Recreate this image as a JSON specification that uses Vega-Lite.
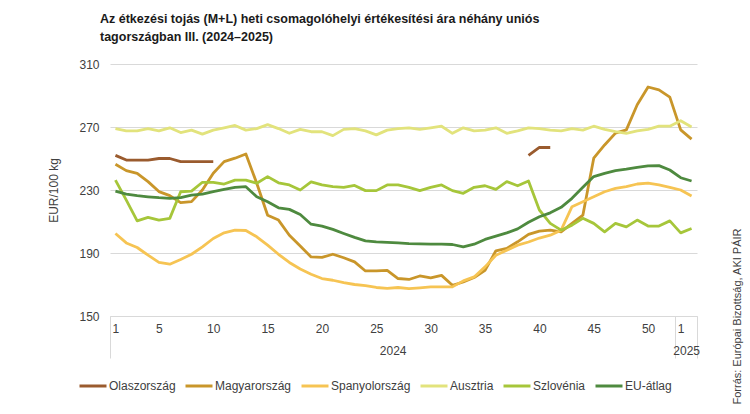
{
  "$schema": "https://vega.github.io/schema/vega-lite/v6.json",
  "width": 587,
  "height": 252,
  "autosize": {"type": "none"},
  "padding": {"left": 110, "top": 64, "right": 53, "bottom": 98},
  "background": "white",
  "title": {
    "text": ["Az étkezési tojás (M+L) heti csomagolóhelyi értékesítési ára néhány uniós", "tagországban III. (2024–2025)"],
    "anchor": "start",
    "frame": "group",
    "dx": -10,
    "offset": 15,
    "font": "Liberation Sans",
    "fontSize": 12.5,
    "fontWeight": "bold",
    "lineHeight": 18,
    "color": "#1a1a1a"
  },
  "config": {
    "view": {"stroke": null},
    "font": "Liberation Sans"
  },
  "datasets": {
    "arak": [
      {"n":1,"Olaszország":252,"Magyarország":246.3,"Spanyolország":202.4,"Ausztria":269,"Szlovénia":236.3,"EU-átlag":229.3},
      {"n":2,"Olaszország":249,"Magyarország":242.3,"Spanyolország":196.4,"Ausztria":267.5,"Szlovénia":223.6,"EU-átlag":227.4},
      {"n":3,"Olaszország":249,"Magyarország":240.6,"Spanyolország":193.5,"Ausztria":267.5,"Szlovénia":210.4,"EU-átlag":226.4},
      {"n":4,"Olaszország":249,"Magyarország":235.3,"Spanyolország":188.6,"Ausztria":269,"Szlovénia":212.6,"EU-átlag":225.7},
      {"n":5,"Olaszország":250,"Magyarország":229,"Spanyolország":184,"Ausztria":267.5,"Szlovénia":210.9,"EU-átlag":225.1},
      {"n":6,"Olaszország":250,"Magyarország":226.4,"Spanyolország":182.9,"Ausztria":269.5,"Szlovénia":212,"EU-átlag":224.7},
      {"n":7,"Olaszország":248,"Magyarország":222,"Spanyolország":185.9,"Ausztria":266.5,"Szlovénia":228.9,"EU-átlag":225.1},
      {"n":8,"Olaszország":248,"Magyarország":222.6,"Spanyolország":189.2,"Ausztria":268,"Szlovénia":229.3,"EU-átlag":226.8},
      {"n":9,"Olaszország":248,"Magyarország":230,"Spanyolország":193.9,"Ausztria":265.5,"Szlovénia":234.9,"EU-átlag":227.4},
      {"n":10,"Olaszország":248,"Magyarország":240.6,"Spanyolország":199.2,"Ausztria":268,"Szlovénia":234.9,"EU-átlag":228.9},
      {"n":11,"Olaszország":null,"Magyarország":248,"Spanyolország":202.8,"Ausztria":269.5,"Szlovénia":233.8,"EU-átlag":230.4},
      {"n":12,"Olaszország":null,"Magyarország":250.2,"Spanyolország":204.5,"Ausztria":271,"Szlovénia":236.3,"EU-átlag":231.7},
      {"n":13,"Olaszország":null,"Magyarország":252.9,"Spanyolország":204.3,"Ausztria":268,"Szlovénia":236.3,"EU-átlag":232.1},
      {"n":14,"Olaszország":null,"Magyarország":234.3,"Spanyolország":200.3,"Ausztria":269,"Szlovénia":234.3,"EU-átlag":225.7},
      {"n":15,"Olaszország":null,"Magyarország":214,"Spanyolország":195,"Ausztria":271.5,"Szlovénia":238.5,"EU-átlag":222.5},
      {"n":16,"Olaszország":null,"Magyarország":210.9,"Spanyolország":189.2,"Ausztria":269,"Szlovénia":234.6,"EU-átlag":218.7},
      {"n":17,"Olaszország":null,"Magyarország":201.3,"Spanyolország":184,"Ausztria":266,"Szlovénia":233.2,"EU-átlag":217.7},
      {"n":18,"Olaszország":null,"Magyarország":194.5,"Spanyolország":179.8,"Ausztria":268.5,"Szlovénia":230,"EU-átlag":214.4},
      {"n":19,"Olaszország":null,"Magyarország":187.5,"Spanyolország":176.5,"Ausztria":267,"Szlovénia":235.2,"EU-átlag":208.3},
      {"n":20,"Olaszország":null,"Magyarország":187.2,"Spanyolország":173.8,"Ausztria":267,"Szlovénia":233.2,"EU-átlag":207.1},
      {"n":21,"Olaszország":null,"Magyarország":189.2,"Spanyolország":172.7,"Ausztria":264.5,"Szlovénia":232.1,"EU-átlag":205},
      {"n":22,"Olaszország":null,"Magyarország":187,"Spanyolország":171.2,"Ausztria":268.5,"Szlovénia":231.7,"EU-átlag":202.4},
      {"n":23,"Olaszország":null,"Magyarország":184.4,"Spanyolország":170,"Ausztria":269,"Szlovénia":232.9,"EU-átlag":199.9},
      {"n":24,"Olaszország":null,"Magyarország":178.6,"Spanyolország":169.3,"Ausztria":267.5,"Szlovénia":229.6,"EU-átlag":197.7},
      {"n":25,"Olaszország":null,"Magyarország":178.6,"Spanyolország":168.1,"Ausztria":265,"Szlovénia":229.6,"EU-átlag":197.1},
      {"n":26,"Olaszország":null,"Magyarország":179,"Spanyolország":167.6,"Ausztria":268,"Szlovénia":233.2,"EU-átlag":196.7},
      {"n":27,"Olaszország":null,"Magyarország":173.8,"Spanyolország":168.1,"Ausztria":269,"Szlovénia":233.2,"EU-átlag":196.4},
      {"n":28,"Olaszország":null,"Magyarország":173.2,"Spanyolország":167.4,"Ausztria":269.5,"Szlovénia":231.7,"EU-átlag":196},
      {"n":29,"Olaszország":null,"Magyarország":175.4,"Spanyolország":167.9,"Ausztria":268.5,"Szlovénia":229.6,"EU-átlag":195.8},
      {"n":30,"Olaszország":null,"Magyarország":174.2,"Spanyolország":168.5,"Ausztria":269.5,"Szlovénia":231.7,"EU-átlag":195.6},
      {"n":31,"Olaszország":null,"Magyarország":175.8,"Spanyolország":168.5,"Ausztria":270.5,"Szlovénia":233.2,"EU-átlag":195.6},
      {"n":32,"Olaszország":null,"Magyarország":169.5,"Spanyolország":168.5,"Ausztria":266,"Szlovénia":229.6,"EU-átlag":195.4},
      {"n":33,"Olaszország":null,"Magyarország":171.6,"Spanyolország":172.3,"Ausztria":269.5,"Szlovénia":227.9,"EU-átlag":193.9},
      {"n":34,"Olaszország":null,"Magyarország":174.4,"Spanyolország":174.8,"Ausztria":267.5,"Szlovénia":231.7,"EU-átlag":195.6},
      {"n":35,"Olaszország":null,"Magyarország":179,"Spanyolország":181.2,"Ausztria":268,"Szlovénia":232.7,"EU-átlag":198.6},
      {"n":36,"Olaszország":null,"Magyarország":191.4,"Spanyolország":188.6,"Ausztria":269.5,"Szlovénia":230.4,"EU-átlag":200.7},
      {"n":37,"Olaszország":null,"Magyarország":192.9,"Spanyolország":191.8,"Ausztria":266,"Szlovénia":235.3,"EU-átlag":202.8},
      {"n":38,"Olaszország":null,"Magyarország":197.1,"Spanyolország":195,"Ausztria":267.5,"Szlovénia":232.7,"EU-átlag":205.3},
      {"n":39,"Olaszország":252,"Magyarország":201.8,"Spanyolország":197,"Ausztria":269.5,"Szlovénia":235.7,"EU-átlag":209.5},
      {"n":40,"Olaszország":257,"Magyarország":203.9,"Spanyolország":199.5,"Ausztria":269,"Szlovénia":217.3,"EU-átlag":213},
      {"n":41,"Olaszország":257,"Magyarország":204.5,"Spanyolország":201.3,"Ausztria":268,"Szlovénia":208.8,"EU-átlag":215.5},
      {"n":42,"Olaszország":null,"Magyarország":203.4,"Spanyolország":204.5,"Ausztria":267.5,"Szlovénia":204.5,"EU-átlag":219},
      {"n":43,"Olaszország":null,"Magyarország":208.8,"Spanyolország":219.4,"Ausztria":269,"Szlovénia":207.7,"EU-átlag":224.7},
      {"n":44,"Olaszország":null,"Magyarország":214,"Spanyolország":222.5,"Ausztria":268,"Szlovénia":212,"EU-átlag":231.7},
      {"n":45,"Olaszország":null,"Magyarország":250.2,"Spanyolország":225.7,"Ausztria":270.5,"Szlovénia":208.8,"EU-átlag":238.5},
      {"n":46,"Olaszország":null,"Magyarország":258.6,"Spanyolország":228.9,"Ausztria":268.5,"Szlovénia":203.4,"EU-átlag":240.6},
      {"n":47,"Olaszország":null,"Magyarország":266.1,"Spanyolország":231,"Ausztria":267,"Szlovénia":208.8,"EU-átlag":242.3},
      {"n":48,"Olaszország":null,"Magyarország":268.2,"Spanyolország":232.1,"Ausztria":266,"Szlovénia":206.6,"EU-átlag":243.2},
      {"n":49,"Olaszország":null,"Magyarország":284.1,"Spanyolország":233.8,"Ausztria":267.5,"Szlovénia":210.9,"EU-átlag":244.4},
      {"n":50,"Olaszország":null,"Magyarország":295.4,"Spanyolország":234.3,"Ausztria":268.5,"Szlovénia":207.1,"EU-átlag":245.3},
      {"n":51,"Olaszország":null,"Magyarország":293.6,"Spanyolország":233.2,"Ausztria":270.5,"Szlovénia":207.1,"EU-átlag":245.5},
      {"n":52,"Olaszország":null,"Magyarország":289,"Spanyolország":231.7,"Ausztria":270.5,"Szlovénia":210.4,"EU-átlag":242.7},
      {"n":53,"Olaszország":null,"Magyarország":268.2,"Spanyolország":230,"Ausztria":274,"Szlovénia":202.8,"EU-átlag":237.8},
      {"n":54,"Olaszország":null,"Magyarország":262.3,"Spanyolország":226.2,"Ausztria":270,"Szlovénia":205.6,"EU-átlag":235.7}
    ],
    "evek": [
      {"pos": 26.5, "ev": "2024"},
      {"pos": 53.5, "ev": "2025"}
    ]
  },
  "resolve": {"axis": {"x": "independent", "y": "independent"}},
  "layer": [
    {
      "data": {"name": "arak"},
      "transform": [
        {"fold": ["Olaszország", "Magyarország", "Spanyolország", "Ausztria", "Szlovénia", "EU-átlag"], "as": ["orszag", "ar"]}
      ],
      "mark": {"type": "line", "strokeWidth": 2.8, "strokeJoin": "round", "invalid": "break-paths-show-domains"},
      "encoding": {
        "x": {
          "field": "n", "type": "quantitative",
          "scale": {"domain": [0.5, 54.5], "nice": false, "zero": false},
          "axis": {
            "orient": "bottom",
            "title": null,
            "values": [0.5, 1, 5, 10, 15, 20, 25, 30, 35, 40, 45, 50, 52.5, 53, 54.5],
            "labelExpr": "datum.value % 1 != 0 ? '' : (datum.value > 52 ? datum.value - 52 : datum.value)",
            "labelFont": "Liberation Sans",
            "labelFontSize": 12,
            "labelColor": "#404040",
            "labelPadding": 7,
            "labelOverlap": false,
            "labelFlush": false,
            "labelBaseline": "top",
            "grid": false,
            "domain": true,
            "domainColor": "#D9D9D9",
            "domainWidth": 1,
            "ticks": true,
            "tickColor": "#D9D9D9",
            "tickWidth": 1,
            "tickSize": {"condition": {"test": "datum.value % 1 != 0", "value": 42}, "value": 0}
          }
        },
        "y": {
          "field": "ar", "type": "quantitative",
          "scale": {"domain": [150, 310], "nice": false, "zero": false},
          "axis": {
            "title": "EUR/100 kg",
            "titleFont": "Liberation Sans",
            "titleFontSize": 12,
            "titleFontWeight": "normal",
            "titleColor": "#404040",
            "titlePadding": 18,
            "values": [150, 190, 230, 270, 310],
            "labelFont": "Liberation Sans",
            "labelFontSize": 12,
            "labelColor": "#404040",
            "labelPadding": 11,
            "ticks": false,
            "domain": false,
            "grid": true,
            "gridColor": "#D9D9D9",
            "gridWidth": 1
          }
        },
        "color": {
          "field": "orszag", "type": "nominal",
          "scale": {
            "domain": ["Olaszország", "Magyarország", "Spanyolország", "Ausztria", "Szlovénia", "EU-átlag"],
            "range": ["#9A5B2E", "#C9962A", "#F6C453", "#E2E37C", "#A6C63A", "#4E8A3F"]
          },
          "legend": {
            "title": null,
            "orient": "none",
            "direction": "horizontal",
            "legendX": -32,
            "legendY": 307,
            "symbolType": "stroke",
            "symbolSize": 729,
            "symbolStrokeWidth": 3,
            "labelFont": "Liberation Sans",
            "labelFontSize": 12,
            "labelColor": "#404040",
            "labelOffset": 1,
            "columnPadding": 3,
            "padding": 0
          }
        },
        "order": {"field": "orszag"}
      }
    },
    {
      "data": {"name": "evek"},
      "mark": {"type": "point", "opacity": 0, "size": 0},
      "encoding": {
        "x": {
          "field": "pos", "type": "quantitative",
          "axis": {
            "orient": "bottom",
            "title": null,
            "values": [26.5, 53.5],
            "labelExpr": "datum.value < 53 ? '2024' : '2025'",
            "labelFont": "Liberation Sans",
            "labelFontSize": 12,
            "labelColor": "#404040",
            "labelPadding": 29,
            "labelBaseline": "top",
            "labelOverlap": false,
            "labelFlush": false,
            "domain": false,
            "ticks": false,
            "grid": false
          }
        },
        "y": {
          "datum": 230, "type": "quantitative",
          "axis": {
            "orient": "right",
            "title": "Forrás: Európai Bizottság, AKI PÁIR",
            "titleAngle": 270,
            "titleFont": "Liberation Sans",
            "titleFontSize": 11,
            "titleFontWeight": "normal",
            "titleColor": "#404040",
            "titleX": 40,
            "titleY": 252,
            "titleAlign": "center",
            "titleBaseline": "middle",
            "labels": false,
            "ticks": false,
            "domain": false,
            "grid": false
          }
        }
      }
    }
  ]
}
